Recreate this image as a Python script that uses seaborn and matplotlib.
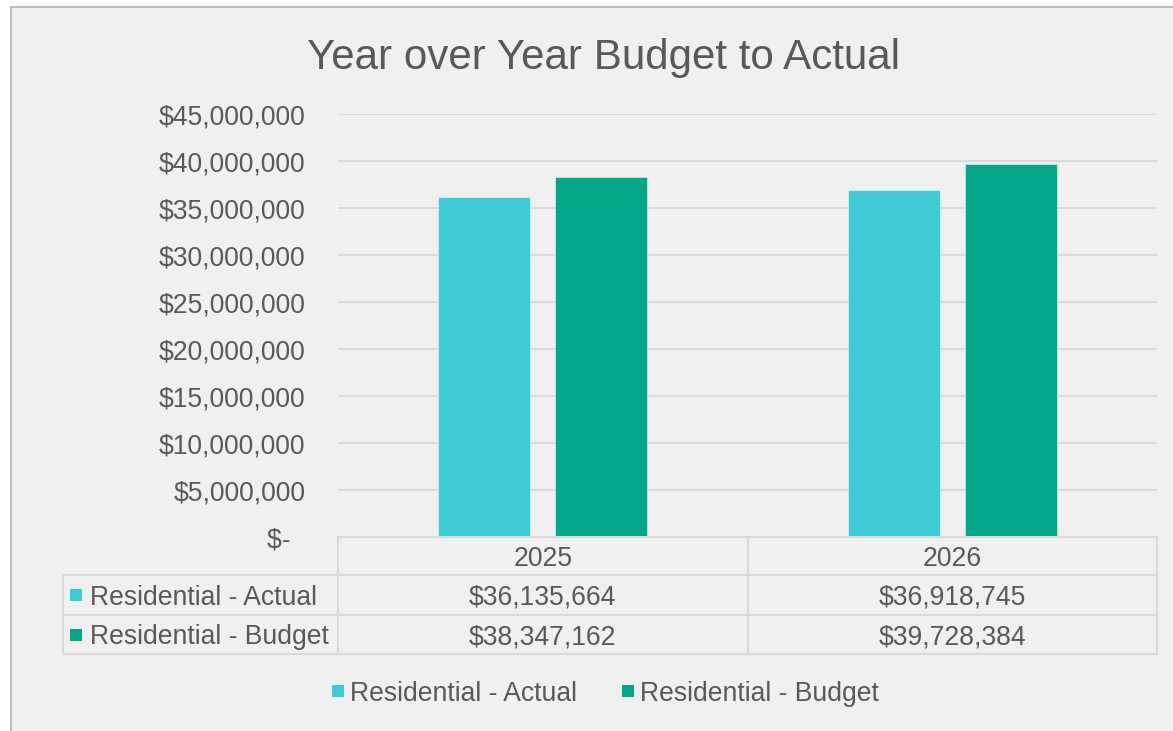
import matplotlib
matplotlib.use("Agg")
import matplotlib.pyplot as plt
from matplotlib.patches import Rectangle
from matplotlib.lines import Line2D
from matplotlib.transforms import blended_transform_factory
import pandas as pd
import seaborn as sns

# Chart data
years = ["2025", "2026"]
series = ["Residential - Actual", "Residential - Budget"]
actual = [36135664, 36918745]
budget = [38347162, 39728384]
colors = ["#3ECBD6", "#03A688"]
y_ticks = [0, 5e6, 10e6, 15e6, 20e6, 25e6, 30e6, 35e6, 40e6, 45e6]
title = "Year over Year Budget to Actual"

df = pd.DataFrame({
    "Year": years * 2,
    "Series": [series[0]] * len(years) + [series[1]] * len(years),
    "Value": actual + budget,
})

plt.rcParams["font.family"] = ["Liberation Sans", "DejaVu Sans"]
TXT = "#595959"
LINE = "#d9d9d9"
FS = 19.1

W, H = 1173, 731
fig = plt.figure(figsize=(W / 100, H / 100), dpi=100)
fig.patch.set_facecolor("white")


def fx(px):
    return px / W


def fy(py):
    return 1 - py / H


# chart area background with border on the top/left
fig.add_artist(Rectangle((fx(11), -0.05), 1.2, fy(7) + 0.05, transform=fig.transFigure,
                         facecolor="#f0f0f0", edgecolor="#bdbdbd", lw=1.4, zorder=-10))

ax = fig.add_axes([fx(338), fy(537), fx(1157 - 338), (537 - 114) / H])
ax.patch.set_alpha(0)
sns.barplot(data=df, x="Year", y="Value", hue="Series", palette=colors,
            saturation=1, width=0.572, gap=0.214, errorbar=None, legend=False,
            ax=ax, edgecolor=(1, 1, 1, 0.45), linewidth=0.8, zorder=3)
ax.set_xlim(-0.5, len(years) - 0.5)
ax.set_ylim(0, 45e6)
ax.set_yticks(y_ticks)
ax.set_yticklabels([f"${v:,.0f}" if v else "$-  " for v in y_ticks],
                   fontsize=FS, color=TXT)
ax.tick_params(axis="y", length=0, pad=23.5)
ax.tick_params(axis="x", length=0, labelbottom=False)
ax.set_xlabel("")
ax.set_ylabel("")
ax.yaxis.grid(True, color=LINE, lw=1.5)
ax.set_axisbelow(True)
for s in ax.spines.values():
    s.set_visible(False)

fig.text(fx(604), fy(69), title, ha="center", va="baseline", fontsize=30.3, color=TXT)

# data table below the plot
bt = blended_transform_factory(ax.transData, fig.transFigure)
lo, hi = -0.5, len(years) - 0.5
row_y = [537, 575, 615, 654]


def hline(x0, x1, y, tr):
    fig.add_artist(Line2D([x0, x1], [fy(y), fy(y)], transform=tr, color=LINE, lw=1.5))


def vline(x, y0, y1, tr):
    fig.add_artist(Line2D([x, x], [fy(y0), fy(y1)], transform=tr, color=LINE, lw=1.5))


hline(lo, hi, row_y[0], bt)
for y in row_y[1:]:
    hline(fx(63), fx(338), y, fig.transFigure)
    hline(lo, hi, y, bt)
for i in range(len(years) + 1):
    vline(lo + i, row_y[0], row_y[-1], bt)
vline(fx(63), row_y[1], row_y[-1], fig.transFigure)

for i, yr in enumerate(years):
    fig.text(i, fy((row_y[0] + row_y[1]) / 2), yr, transform=bt, ha="center",
             va="center_baseline", fontsize=FS, color=TXT)
for r, (name, vals, col) in enumerate(zip(series, [actual, budget], colors)):
    yc = (row_y[r + 1] + row_y[r + 2]) / 2
    fig.add_artist(Rectangle((fx(70), fy(yc + 6)), fx(12), 12 / H,
                             transform=fig.transFigure, facecolor=col, lw=0))
    fig.text(fx(90), fy(yc), name, ha="left", va="center_baseline",
             fontsize=FS, color=TXT)
    for i, v in enumerate(vals):
        fig.text(i, fy(yc), f"${v:,.0f}", transform=bt, ha="center",
                 va="center_baseline", fontsize=FS, color=TXT)

# legend
leg_x = [332, 622]
for x0, name, col in zip(leg_x, series, colors):
    fig.add_artist(Rectangle((fx(x0), fy(697)), fx(12), 12 / H,
                             transform=fig.transFigure, facecolor=col, lw=0))
    fig.text(fx(x0 + 18), fy(691), name, ha="left", va="center_baseline",
             fontsize=FS, color=TXT)

fig.savefig("out.png", dpi=100, facecolor=fig.get_facecolor())
